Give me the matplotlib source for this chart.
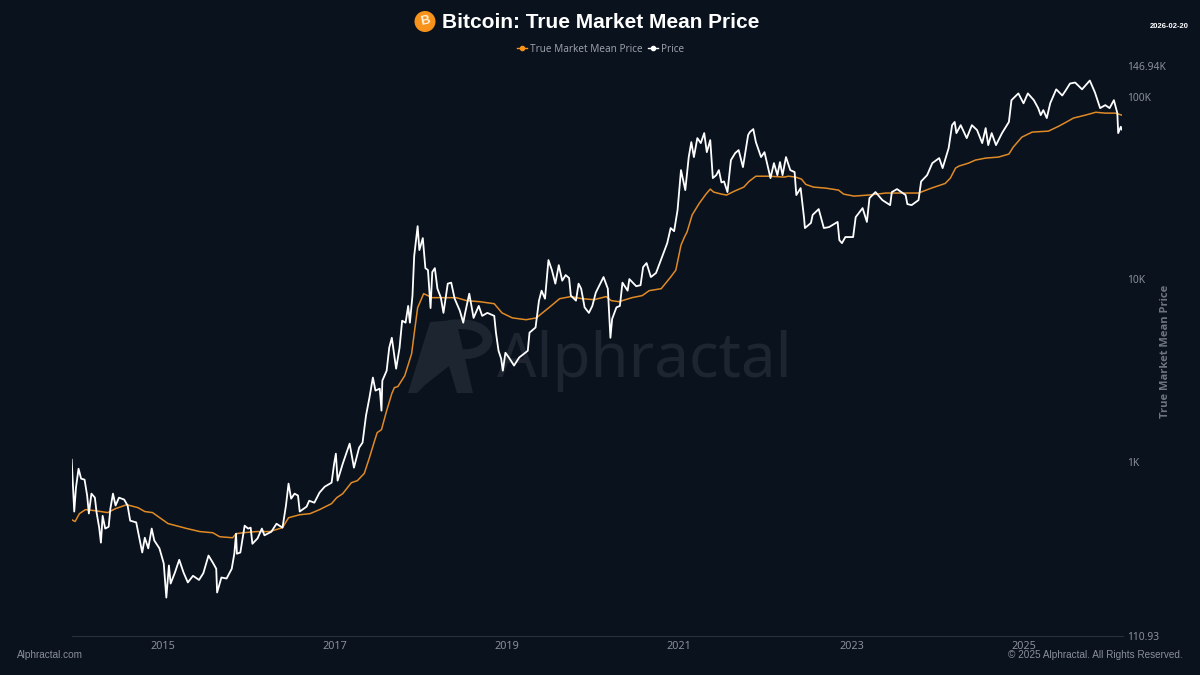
import matplotlib
matplotlib.use('Agg')
import matplotlib.pyplot as plt
from matplotlib.lines import Line2D
from matplotlib.patches import Circle, Polygon, PathPatch
from matplotlib.path import Path

# values, dates as decimal years
price_years = [2013.94, 2013.97, 2013.99, 2014.02, 2014.05, 2014.09, 2014.12, 2014.14, 2014.17, 2014.21,
    2014.23, 2014.26, 2014.28, 2014.30, 2014.33, 2014.37, 2014.39, 2014.42, 2014.45, 2014.49,
    2014.55, 2014.59, 2014.62, 2014.69, 2014.76, 2014.79, 2014.83, 2014.87, 2014.90, 2014.96,
    2015.01, 2015.04, 2015.07, 2015.09, 2015.14, 2015.19, 2015.24, 2015.29, 2015.35, 2015.42,
    2015.47, 2015.53, 2015.58, 2015.62, 2015.63, 2015.68, 2015.74, 2015.80, 2015.83, 2015.85,
    2015.86, 2015.90, 2015.95, 2015.99, 2016.02, 2016.04, 2016.10, 2016.15, 2016.18, 2016.26,
    2016.32, 2016.39, 2016.43, 2016.46, 2016.49, 2016.53, 2016.57, 2016.59, 2016.67, 2016.70,
    2016.76, 2016.82, 2016.88, 2016.96, 2016.99, 2017.01, 2017.03, 2017.09, 2017.17, 2017.22,
    2017.28, 2017.32, 2017.36, 2017.40, 2017.44, 2017.47, 2017.52, 2017.54, 2017.55, 2017.60,
    2017.63, 2017.66, 2017.71, 2017.75, 2017.78, 2017.82, 2017.85, 2017.87, 2017.90, 2017.92,
    2017.96, 2017.98, 2018.02, 2018.05, 2018.08, 2018.11, 2018.13, 2018.16, 2018.19, 2018.23,
    2018.26, 2018.31, 2018.35, 2018.39, 2018.45, 2018.49, 2018.51, 2018.56, 2018.61, 2018.67,
    2018.71, 2018.77, 2018.85, 2018.87, 2018.90, 2018.93, 2018.95, 2018.98, 2019.02, 2019.08,
    2019.14, 2019.24, 2019.26, 2019.33, 2019.37, 2019.40, 2019.44, 2019.48, 2019.52, 2019.56,
    2019.60, 2019.64, 2019.68, 2019.72, 2019.74, 2019.80, 2019.83, 2019.86, 2019.90, 2019.95,
    2019.99, 2020.03, 2020.12, 2020.17, 2020.20, 2020.22, 2020.27, 2020.31, 2020.34, 2020.40,
    2020.42, 2020.50, 2020.55, 2020.58, 2020.62, 2020.67, 2020.73, 2020.80, 2020.86, 2020.90,
    2020.94, 2020.98, 2021.02, 2021.07, 2021.11, 2021.14, 2021.17, 2021.21, 2021.25, 2021.29,
    2021.32, 2021.36, 2021.39, 2021.43, 2021.46, 2021.49, 2021.52, 2021.56, 2021.60, 2021.65,
    2021.69, 2021.74, 2021.80, 2021.82, 2021.86, 2021.89, 2021.95, 2021.99, 2022.02, 2022.06,
    2022.10, 2022.14, 2022.17, 2022.20, 2022.24, 2022.29, 2022.34, 2022.36, 2022.41, 2022.45,
    2022.46, 2022.53, 2022.55, 2022.62, 2022.68, 2022.74, 2022.84, 2022.86, 2022.89, 2022.93,
    2023.02, 2023.05, 2023.13, 2023.18, 2023.21, 2023.28, 2023.36, 2023.45, 2023.47, 2023.53,
    2023.63, 2023.65, 2023.70, 2023.78, 2023.81, 2023.88, 2023.94, 2024.02, 2024.06, 2024.13,
    2024.17, 2024.20, 2024.22, 2024.27, 2024.34, 2024.40, 2024.46, 2024.52, 2024.56, 2024.59,
    2024.63, 2024.68, 2024.75, 2024.83, 2024.86, 2024.94, 2025.00, 2025.05, 2025.12, 2025.17,
    2025.20, 2025.23, 2025.27, 2025.31, 2025.38, 2025.45, 2025.49, 2025.54, 2025.60, 2025.68,
    2025.77, 2025.83, 2025.89, 2025.95, 2026.00, 2026.05, 2026.09, 2026.10, 2026.13, 2026.14]

price = [1025, 533, 720, 915, 807, 797, 652, 520, 668, 635,
    525, 435, 360, 505, 430, 440, 553, 668, 575, 635,
    620, 575, 475, 465, 318, 383, 335, 430, 370, 335,
    277, 180, 270, 215, 247, 290, 247, 218, 237, 225,
    245, 306, 280, 259, 192, 232, 229, 259, 313, 403,
    313, 318, 446, 430, 435, 355, 380, 430, 395, 413,
    457, 435, 575, 758, 627, 668, 652, 533, 567, 611,
    596, 677, 729, 767, 975, 1106, 787, 975, 1255, 927,
    1193, 1271, 1787, 2240, 2888, 2450, 2511, 1903, 2777, 3150,
    4210, 4770, 3230, 4210, 5915, 5770, 7130, 5770, 8120, 13370,
    19500, 14420, 16770, 11480, 11200, 6940, 10930, 11480, 8860, 7910,
    6530, 9440, 9560, 7810, 6715, 5770, 6460, 8320, 6130, 7130,
    6290, 6530, 6290, 5090, 4050, 3670, 3150, 3950, 3720, 3360,
    3720, 4050, 5090, 5430, 7620, 8640, 7810, 12710, 11200, 9440,
    11920, 9800, 10520, 10130, 8120, 7620, 9440, 8860, 7000, 6530,
    7130, 8430, 10260, 8860, 4770, 6050, 7000, 7130, 9560, 8640,
    10000, 9140, 9260, 11630, 12240, 10260, 10800, 13200, 15730, 19030,
    18300, 23870, 39530, 30720, 46590, 56270, 46590, 59180, 55570, 63040,
    49570, 57700, 35740, 37100, 39530, 33830, 34260, 29960, 44840, 49000,
    50870, 41060, 61500, 63840, 66300, 56300, 46590, 49570, 43150, 35740,
    43150, 37100, 43720, 37100, 46590, 39530, 38570, 28860, 31500, 21600,
    19030, 20300, 22470, 24170, 19030, 19270, 20560, 16350, 15730, 16990,
    16990, 21850, 24480, 20560, 27770, 29960, 27080, 25420, 29960, 31110,
    28860, 25750, 25420, 27080, 34260, 37100, 43150, 46000, 40540, 52170,
    69700, 72560, 63040, 69700, 59180, 69700, 65470, 55570, 67140, 54180,
    63040, 54180, 63040, 72560, 95500, 104000, 91800, 104000, 95500, 86400,
    79100, 84240, 76200, 91800, 109500, 101300, 108000, 117800, 119300, 109500,
    122300, 105200, 86400, 89700, 86400, 95500, 81100, 63040, 68300, 66000]

mean_years = [2013.94, 2013.98, 2014.03, 2014.10, 2014.21, 2014.36, 2014.45, 2014.58, 2014.71, 2014.79,
    2014.88, 2015.06, 2015.28, 2015.43, 2015.58, 2015.66, 2015.81, 2015.85, 2015.93, 2016.09,
    2016.24, 2016.39, 2016.46, 2016.59, 2016.71, 2016.82, 2016.96, 2017.02, 2017.09, 2017.19,
    2017.26, 2017.34, 2017.40, 2017.46, 2017.49, 2017.54, 2017.60, 2017.66, 2017.69, 2017.73,
    2017.81, 2017.89, 2017.92, 2017.96, 2018.03, 2018.13, 2018.25, 2018.41, 2018.53, 2018.68,
    2018.85, 2018.94, 2019.06, 2019.22, 2019.34, 2019.41, 2019.49, 2019.61, 2019.74, 2019.87,
    2020.01, 2020.15, 2020.21, 2020.30, 2020.45, 2020.57, 2020.65, 2020.79, 2020.90, 2020.96,
    2021.02, 2021.06, 2021.09, 2021.15, 2021.23, 2021.31, 2021.36, 2021.40, 2021.49, 2021.55,
    2021.64, 2021.75, 2021.81, 2021.89, 2022.04, 2022.22, 2022.27, 2022.35, 2022.42, 2022.47,
    2022.56, 2022.70, 2022.85, 2022.91, 2023.03, 2023.20, 2023.40, 2023.55, 2023.78, 2023.93,
    2024.09, 2024.15, 2024.21, 2024.25, 2024.36, 2024.44, 2024.56, 2024.71, 2024.83, 2024.88,
    2024.98, 2025.10, 2025.29, 2025.41, 2025.50, 2025.58, 2025.72, 2025.84, 2025.95, 2026.07,
    2026.14]

mean_price = [481, 470, 519, 546, 539, 526, 553, 581, 560, 533,
    526, 458, 430, 414, 408, 388, 383, 403, 408, 414,
    414, 435, 493, 512, 519, 546, 589, 635, 668, 767,
    787, 862, 1052, 1303, 1442, 1497, 1903, 2360, 2546, 2578,
    2955, 3900, 5020, 6970, 8320, 7910, 7910, 7910, 7620, 7521,
    7330, 6530, 6130, 5990, 6130, 6530, 7000, 7810, 8020, 7810,
    7710, 8020, 7620, 7521, 7910, 8120, 8640, 8860, 10260, 11200,
    15340, 16990, 18100, 22470, 25900, 29200, 31110, 29960, 29200, 28860,
    30300, 31900, 34260, 36600, 36600, 36200, 36600, 36200, 35290, 33000,
    31900, 31500, 30720, 29200, 28480, 28860, 29600, 29600, 29600, 31500,
    33400, 35740, 40540, 41600, 43150, 44840, 46000, 46590, 48400, 52800,
    59900, 63840, 64640, 68800, 72560, 76200, 79100, 82000, 81100, 81100,
    79100]

x_ticks = [2015, 2017, 2019, 2021, 2023, 2025]
y_ticks = [110.93, 1000, 10000, 100000, 146940]
y_labels = ['110.93', '1K', '10K', '100K', '146.94K']

BG = '#0a121e'
GREY = '#8b8f99'
ORANGE = '#f7931a'

fig = plt.figure(figsize=(12, 6.75), dpi=100, facecolor=BG)
ax = fig.add_axes([72 / 1200, 39 / 675, 1050.5 / 1200, 570 / 675], facecolor=BG)
ax.set_zorder(2)
ax.patch.set_alpha(0)


def px(x, y):
    return x / 1200, 1 - y / 675


# watermark, sits under the axes
wm = '#1d2531'
fig.text(*px(497, 361), 'Alphractal', family='Noto Sans', fontsize=44.5, color=wm, va='center', ha='left', zorder=0.5)
logo_a = [(408, 393), (430, 322), (456, 320), (473, 393), (457, 393), (449, 366), (425, 385), (417, 393)]
fig.add_artist(Polygon([px(*p) for p in logo_a], closed=True, transform=fig.transFigure, color=wm, lw=0, zorder=0.5))
logo_p = Path([px(448, 325), px(500, 318), px(498, 358), px(458, 354)],
              [Path.MOVETO, Path.CURVE4, Path.CURVE4, Path.CURVE4])
fig.add_artist(PathPatch(logo_p, transform=fig.transFigure, fc='none', ec=wm, lw=7, zorder=0.5))

line_mean, = ax.plot(mean_years, mean_price, color='#e08a26', lw=1.1, zorder=3)
line_price, = ax.plot(price_years, price, color='white', lw=1.3, zorder=4)

ax.set_yscale('log')
ax.set_xlim(2013.944, 2026.15)
ax.set_ylim(110.93, 146940)

for s in ['top', 'left', 'right']:
    ax.spines[s].set_visible(False)
ax.spines['bottom'].set_color('#2a313c')
ax.spines['bottom'].set_linewidth(0.8)

ax.set_xticks(x_ticks)
ax.set_xticklabels([str(y) for y in x_ticks], family='Noto Sans', fontsize=7.8, color=GREY)
ax.tick_params(axis='x', length=0, pad=3.5)
ax.yaxis.tick_right()
ax.set_yticks(y_ticks)
ax.set_yticklabels(y_labels, family='Noto Sans', fontsize=7.4, color=GREY)
ax.minorticks_off()
ax.tick_params(axis='y', which='both', length=0, pad=3)

fig.text(*px(1165, 351), 'True Market Mean Price', family='Open Sans', fontweight='bold', fontsize=8,
         color='#6f7480', rotation=90, ha='center', va='center')

# title with coin icon
fig.text(*px(442, 23), 'Bitcoin: True Market Mean Price', family='Liberation Sans', fontweight='bold',
         fontsize=15.05, color='white', ha='left', va='center')
fig.add_artist(Circle((425 / 100, 6.75 - 21.5 / 100), 0.105, transform=fig.dpi_scale_trans, color=ORANGE, lw=0))
fig.text(*px(425, 21.5), 'B', family='Liberation Sans', fontweight='bold', fontsize=9.5, color='#fff0dc',
         rotation=12, ha='center', va='center')

handles = [Line2D([], [], color=ORANGE, lw=1, marker='o', ms=3),
           Line2D([], [], color='white', lw=1, marker='o', ms=3)]
fig.legend(handles, ['True Market Mean Price', 'Price'], loc='center', bbox_to_anchor=px(600.5, 49), ncol=2,
           frameon=False, handlelength=1.0, handletextpad=0.25, columnspacing=0.6, borderpad=0,
           labelcolor='#9a9ea8', prop={'family': 'Noto Sans', 'size': 7.2})

fig.text(*px(1188.5, 26.5), '2026-02-20', family='Liberation Sans', fontweight='bold', fontsize=5.5,
         color='white', ha='right', va='center')
fig.text(*px(17, 655), 'Alphractal.com', family='Liberation Sans', fontsize=7.2, color=GREY, ha='left', va='center')
fig.text(*px(1183, 655), '© 2025 Alphractal. All Rights Reserved.', family='Liberation Sans', fontsize=7.2,
         color=GREY, ha='right', va='center')

fig.savefig('out.png', dpi=100, facecolor=BG)
